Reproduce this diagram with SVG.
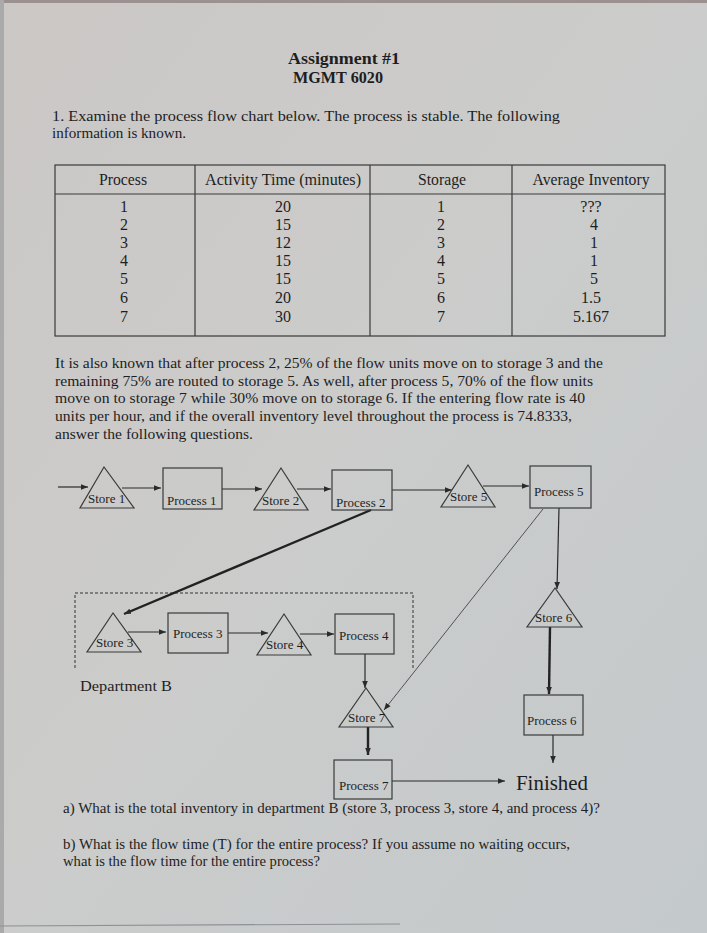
<svg xmlns="http://www.w3.org/2000/svg" width="707" height="933" viewBox="0 0 707 933">
<defs>
<linearGradient id="bg" x1="0" y1="0" x2="1" y2="1">
<stop offset="0" stop-color="#cbc8c6"/>
<stop offset="0.5" stop-color="#cbcccb"/>
<stop offset="1" stop-color="#c4c9cc"/>
</linearGradient>
<marker id="ah" viewBox="0 0 10 10" refX="10" refY="5" markerWidth="7" markerHeight="7" markerUnits="userSpaceOnUse" orient="auto">
<path d="M0,1 L10,5 L0,9 z" fill="#2a2a2a"/>
</marker>
</defs>
<style>
text{font-family:"Liberation Serif","Times New Roman",serif;fill:#1e1e1e}
.t{font-size:15.5px}
.b{font-size:17px;font-weight:bold}
.lbl{font-size:13px}
.cell{font-size:16px;text-anchor:middle}
.node{fill:none;stroke:#3a3a3a;stroke-width:1.2}
.c{stroke:#2a2a2a;stroke-width:1.2;fill:none}
.thick{stroke:#222;stroke-width:2.4;fill:none}
.thin{stroke:#444;stroke-width:0.9;fill:none}
.tbl{stroke:#3a3a3a;stroke-width:1.2;fill:none}
</style>
<rect x="0" y="0" width="707" height="933" fill="url(#bg)"/>
<rect x="0" y="0" width="707" height="3" fill="#9a9190"/>
<rect x="0" y="0" width="4" height="933" fill="#aaaaaa"/>
<line x1="0" y1="926" x2="400" y2="924" stroke="#8d9196" stroke-width="1.2"/>

<!-- Heading -->
<text class="b" x="344" y="64" text-anchor="middle" textLength="112" lengthAdjust="spacingAndGlyphs">Assignment #1</text>
<text class="b" x="338" y="83" text-anchor="middle" textLength="90" lengthAdjust="spacingAndGlyphs">MGMT 6020</text>
<text class="t" x="52" y="121" textLength="508" lengthAdjust="spacingAndGlyphs">1.  Examine the process flow chart below.  The process is stable.  The following</text>
<text class="t" x="52" y="138" textLength="134" lengthAdjust="spacingAndGlyphs">information is known.</text>

<!-- Table -->
<g id="table">
<rect class="tbl" x="55" y="165" width="610" height="171"/>
<line class="tbl" x1="55" y1="194" x2="665" y2="194"/>
<line class="tbl" x1="195" y1="165" x2="195" y2="336"/>
<line class="tbl" x1="370" y1="165" x2="370" y2="336"/>
<line class="tbl" x1="512" y1="165" x2="512" y2="336"/>
<text class="cell" x="123" y="185" textLength="48" lengthAdjust="spacingAndGlyphs">Process</text>
<text class="cell" x="283" y="185" textLength="156" lengthAdjust="spacingAndGlyphs">Activity Time (minutes)</text>
<text class="cell" x="442" y="185" textLength="48" lengthAdjust="spacingAndGlyphs">Storage</text>
<text class="cell" x="591" y="185" textLength="117" lengthAdjust="spacingAndGlyphs">Average Inventory</text>
<g>
<text class="cell" x="124" y="212">1</text><text class="cell" x="283" y="212">20</text><text class="cell" x="441" y="212">1</text><text class="cell" x="591" y="212">???</text>
<text class="cell" x="124" y="230">2</text><text class="cell" x="283" y="230">15</text><text class="cell" x="441" y="230">2</text><text class="cell" x="594" y="230">4</text>
<text class="cell" x="124" y="248">3</text><text class="cell" x="283" y="248">12</text><text class="cell" x="441" y="248">3</text><text class="cell" x="594" y="248">1</text>
<text class="cell" x="124" y="266">4</text><text class="cell" x="283" y="266">15</text><text class="cell" x="441" y="266">4</text><text class="cell" x="594" y="266">1</text>
<text class="cell" x="124" y="284">5</text><text class="cell" x="283" y="284">15</text><text class="cell" x="441" y="284">5</text><text class="cell" x="594" y="284">5</text>
<text class="cell" x="124" y="303">6</text><text class="cell" x="283" y="303">20</text><text class="cell" x="441" y="303">6</text><text class="cell" x="591" y="303">1.5</text>
<text class="cell" x="124" y="322">7</text><text class="cell" x="283" y="322">30</text><text class="cell" x="441" y="322">7</text><text class="cell" x="591" y="322">5.167</text>
</g>
</g>

<!-- Paragraph -->
<text class="t" x="55" y="368" textLength="548" lengthAdjust="spacingAndGlyphs">It is also known that after process 2, 25% of the flow units move on to storage 3 and the</text>
<text class="t" x="55" y="386" textLength="538" lengthAdjust="spacingAndGlyphs">remaining 75% are routed to storage 5.  As well, after process 5, 70% of the flow units</text>
<text class="t" x="55" y="403" textLength="530" lengthAdjust="spacingAndGlyphs">move on to storage 7 while 30% move on to storage 6.  If the entering flow rate is 40</text>
<text class="t" x="55" y="421" textLength="517" lengthAdjust="spacingAndGlyphs">units per hour, and if the overall inventory level throughout the process is 74.8333,</text>
<text class="t" x="55" y="439" textLength="198" lengthAdjust="spacingAndGlyphs">answer the following questions.</text>

<!-- Department B boundary -->
<g id="deptB">
<path d="M75,668 V593 H413 V668" fill="none" stroke="#333" stroke-width="1" stroke-dasharray="3,2"/>
<text class="t" x="80" y="691" textLength="92" lengthAdjust="spacingAndGlyphs">Department B</text>
</g>

<!-- Connectors -->
<g id="connectors">
<line class="c" x1="58" y1="487" x2="88" y2="487" marker-end="url(#ah)"/>
<line class="c" x1="122" y1="488" x2="161" y2="488" marker-end="url(#ah)"/>
<line class="c" x1="222" y1="489" x2="262" y2="489" marker-end="url(#ah)"/>
<line class="c" x1="297" y1="489" x2="331" y2="489" marker-end="url(#ah)"/>
<line class="c" x1="392" y1="490" x2="452" y2="490" marker-end="url(#ah)"/>
<line class="c" x1="483" y1="486" x2="529" y2="486" marker-end="url(#ah)"/>
<line class="thick" x1="371" y1="510" x2="124" y2="614" marker-end="url(#ah)"/>
<line class="thin" x1="543" y1="509" x2="384" y2="710" marker-end="url(#ah)"/>
<line class="c" x1="559" y1="508" x2="557" y2="589" marker-end="url(#ah)"/>
<line class="c" x1="128" y1="632" x2="166" y2="632" marker-end="url(#ah)"/>
<line class="c" x1="228" y1="633" x2="268" y2="633" marker-end="url(#ah)"/>
<line class="c" x1="300" y1="634" x2="334" y2="634" marker-end="url(#ah)"/>
<line class="c" x1="365" y1="654" x2="365" y2="688" marker-end="url(#ah)"/>
<line class="thick" x1="550" y1="627" x2="549" y2="694" marker-end="url(#ah)"/>
<line class="thick" x1="368" y1="727" x2="368" y2="755" marker-end="url(#ah)"/>
<line class="c" x1="553" y1="735" x2="553" y2="763" marker-end="url(#ah)"/>
<line class="c" x1="392" y1="781" x2="505" y2="781" marker-end="url(#ah)"/>
</g>

<!-- Nodes -->
<g id="store1"><polygon class="node" points="104,467 80,508 134,508"/><text class="lbl" x="88" y="503">Store 1</text></g>
<g id="process1"><rect class="node" x="163" y="468" width="59" height="41"/><text class="lbl" x="167" y="505">Process 1</text></g>
<g id="store2"><polygon class="node" points="281,468 254,510 308,510"/><text class="lbl" x="262" y="505">Store 2</text></g>
<g id="process2"><rect class="node" x="332" y="470" width="60" height="40"/><text class="lbl" x="336" y="507">Process 2</text></g>
<g id="store5"><polygon class="node" points="468,465 441,507 495,507"/><text class="lbl" x="450" y="501">Store 5</text></g>
<g id="process5"><rect class="node" x="530" y="466" width="61" height="42"/><text class="lbl" x="534" y="496">Process 5</text></g>
<g id="store3"><polygon class="node" points="113,613 87,652 141,652"/><text class="lbl" x="96" y="647">Store 3</text></g>
<g id="process3"><rect class="node" x="168" y="613" width="60" height="40"/><text class="lbl" x="173" y="638">Process 3</text></g>
<g id="store4"><polygon class="node" points="284,614 257,655 311,655"/><text class="lbl" x="266" y="649">Store 4</text></g>
<g id="process4"><rect class="node" x="335" y="614" width="59" height="40"/><text class="lbl" x="339" y="640">Process 4</text></g>
<g id="store6"><polygon class="node" points="555,588 527,627 582,627"/><text class="lbl" x="535" y="622">Store 6</text></g>
<g id="process6"><rect class="node" x="524" y="695" width="59" height="40"/><text class="lbl" x="527" y="725">Process 6</text></g>
<g id="store7"><polygon class="node" points="366,688 339,727 393,727"/><text class="lbl" x="348" y="722">Store 7</text></g>
<g id="process7"><rect class="node" x="334" y="760" width="58" height="39"/><text class="lbl" x="339" y="790">Process 7</text></g>
<g id="finished"><text x="516" y="790" style="font-size:20px" textLength="72" lengthAdjust="spacingAndGlyphs">Finished</text></g>

<!-- Questions -->
<text class="t" x="63" y="813" textLength="537" lengthAdjust="spacingAndGlyphs">a) What is the total inventory in department B (store 3, process 3, store 4, and process 4)?</text>
<text class="t" x="63" y="849" textLength="507" lengthAdjust="spacingAndGlyphs">b) What is the flow time (T) for the entire process?  If you assume no waiting occurs,</text>
<text class="t" x="63" y="866" textLength="257" lengthAdjust="spacingAndGlyphs">what is the flow time for the entire process?</text>
</svg>
